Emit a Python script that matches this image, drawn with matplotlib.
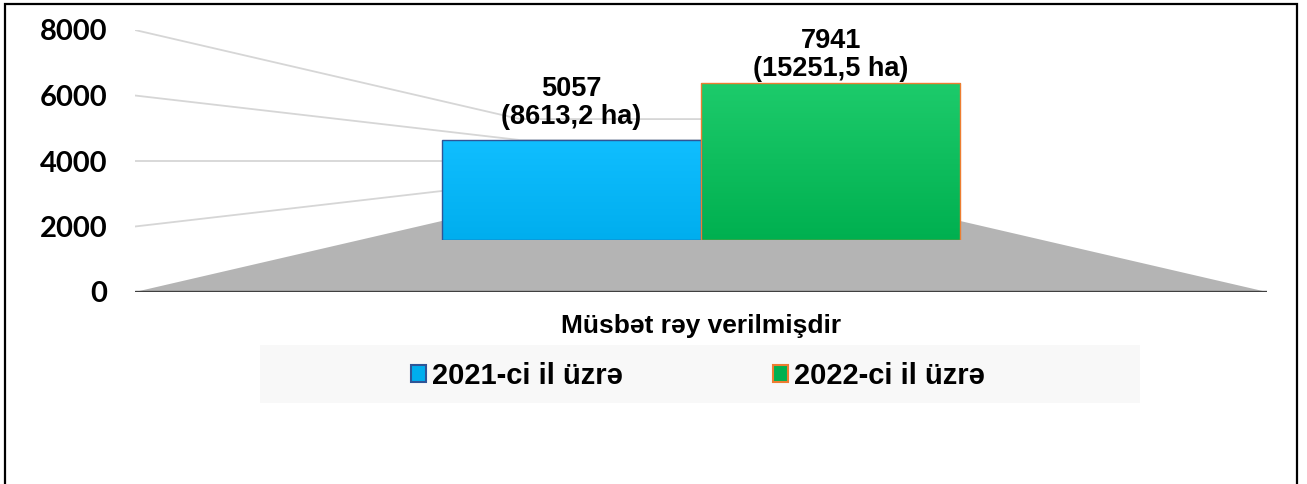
import numpy as np
import matplotlib
matplotlib.use("Agg")
import matplotlib.pyplot as plt
from matplotlib.patches import Polygon, Rectangle, Patch

# data
category = "Müsbət rəy verilmişdir"
series = ["2021-ci il üzrə", "2022-ci il üzrə"]
values = [5057, 7941]
areas = ["8613,2", "15251,5"]
yticks = [0, 2000, 4000, 6000, 8000]

colors_top = ["#10BEFF", "#1DCB6B"]
colors_bot = ["#00AEEE", "#00B050"]
edges = ["#2F5597", "#ED7D31"]

fig = plt.figure(figsize=(13.07, 4.84), dpi=100)
W, H = 1307, 484
ax = fig.add_axes([135 / W, (H - 292) / H, 1132 / W, 262 / H])
ax.set_xlim(0, 1)
ax.set_ylim(0, 8000)
for s in ax.spines.values():
    s.set_visible(False)
ax.set_xticks([])
ax.set_yticks(yticks)
ax.set_yticklabels([str(t) for t in yticks], fontfamily="Lato", fontweight="bold", fontsize=21)
ax.tick_params(axis="y", length=0, pad=20)

# simple perspective: vanishing point at centre, 4000 level
vu, vv = 0.5, 4000
s_back, s_bar = 0.32, 0.603


def proj(u, v, s):
    return vu + s * (u - vu), vv + s * (v - vv)


# gridlines on left wall + back wall
for t in yticks[1:]:
    bl = proj(0, t, s_back)
    br = proj(1, t, s_back)
    ax.plot([0, bl[0], br[0]], [t, bl[1], br[1]], color="#D6D6D6", lw=1.3, zorder=1)

# floor
floor = Polygon([(0, 0), (1, 0), proj(1, 0, s_back), proj(0, 0, s_back)],
                closed=True, facecolor="#B4B4B4", edgecolor="none", zorder=2)
ax.add_patch(floor)
ax.plot([0, 1], [0, 0], color="#404040", lw=2.4, solid_capstyle="round", zorder=3)

# bars on their own plane
x0, y0 = proj(0, 0, s_bar)
ax_bar = ax.inset_axes([x0, y0, s_bar, 8000 * s_bar], transform=ax.transData)
ax_bar.set_xlim(0, 1)
ax_bar.set_ylim(0, 8000)
ax_bar.set_axis_off()

width = 0.38
xs = [0.5 - width / 2, 0.5 + width / 2]
bars = ax_bar.bar(xs, values, width=width, color=colors_bot, edgecolor="none", zorder=2)
for b, ct, cb, ec in zip(bars, colors_top, colors_bot, edges):
    c1 = np.array(matplotlib.colors.to_rgb(ct))
    c2 = np.array(matplotlib.colors.to_rgb(cb))
    t = np.linspace(0, 1, 100)[:, None]
    grad = (c1 * (1 - t) + c2 * t)[:, None, :]
    bx, by = b.get_x(), b.get_y()
    im = ax_bar.imshow(grad, extent=[bx, bx + b.get_width(), by, by + b.get_height()],
                       origin="upper", aspect="auto", zorder=3)
    im.set_clip_path(b)
    ax_bar.add_patch(Rectangle((bx, by), b.get_width(), b.get_height(),
                               fill=False, edgecolor=ec, lw=1.0, zorder=4))

offsets = [10, 1]
for x, v, a, off in zip(xs, values, areas, offsets):
    ax_bar.annotate(f"{v}\n({a} ha)", xy=(x, v), xytext=(0, off), textcoords="offset pixels",
                    ha="center", va="bottom", fontsize=19.5, fontweight="bold",
                    fontfamily="Liberation Sans", linespacing=1.1, zorder=5)

# category title
ax.text(0.5, -41 / 262, category, transform=ax.transAxes, ha="center", va="baseline",
        fontsize=19, fontweight="bold", fontfamily="Liberation Sans")

# legend
fig.add_artist(Rectangle((260 / W, 1 - 403 / H), 880 / W, 58 / H, transform=fig.transFigure,
                         facecolor="#F8F8F8", edgecolor="none", zorder=0))
handles = [Patch(facecolor=c, edgecolor=e, lw=1.5) for c, e in zip(colors_bot, edges)]
fig.legend(handles, series, loc="center", bbox_to_anchor=(698 / W, 1 - 376 / H), ncol=2,
           frameon=False, handlelength=0.5, handleheight=0.55, handletextpad=0.2,
           columnspacing=5.17, prop={"family": "Liberation Sans", "weight": "bold", "size": 21})

# outer frame
fig.add_artist(Rectangle((5 / W, -0.1), 1292 / W, 1.1 - 4 / H, transform=fig.transFigure,
                         fill=False, edgecolor="black", lw=1.6, zorder=10))

fig.savefig("out.png", dpi=100)
